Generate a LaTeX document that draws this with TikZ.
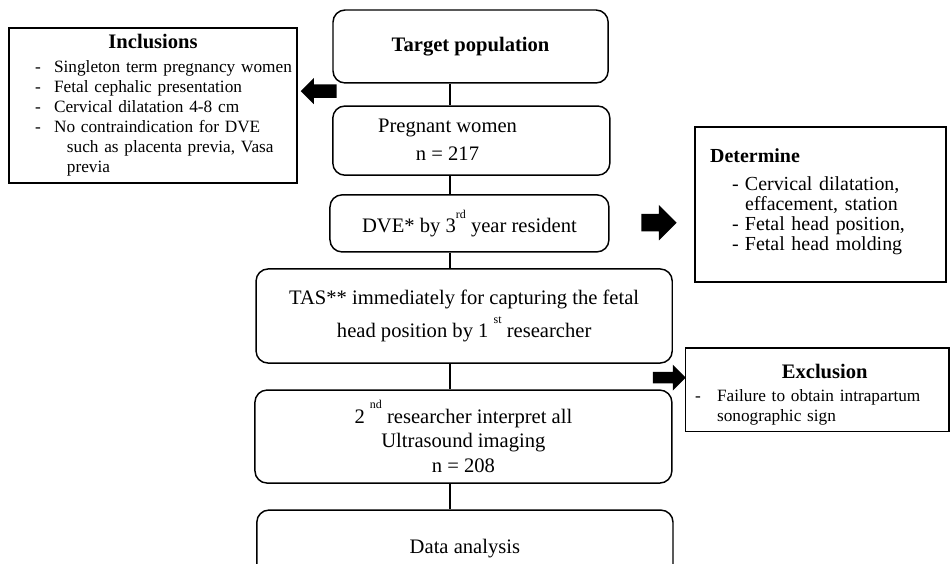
\documentclass[tikz,border=0pt]{standalone}
\usepackage{fontspec}
\setmainfont{Liberation Serif}
\usetikzlibrary{shapes.arrows}

\tikzset{
  flowbox/.style={draw, line width=1.1pt, rounded corners=.32cm, align=center, inner sep=0, font=\fontsize{15.5}{21}\selectfont},
  listbox/.style={draw, line width=1.1pt, align=left, inner sep=0, font=\fontsize{13}{15}\selectfont},
  blockarrow/.style={single arrow, fill=black, draw=none, inner sep=0, text depth=0pt, minimum width=1pt},
  spine/.style={line width=1.6pt}
}
\newcommand{\ordsup}[1]{\raisebox{.7em}{\fontsize{9}{9}\selectfont #1}}
\newcommand{\listdash}[3]{\hspace*{#1}\makebox[#2][l]{-}#3}

\begin{document}
\begin{tikzpicture}
\useasboundingbox (0,0) rectangle (25.16cm,-14.92cm);

\node (tp) at (12.45cm,-1.23cm) [flowbox, minimum width=7.28cm, minimum height=1.93cm] {\textbf{Target population}};
\node (pw) at (12.47cm,-3.72cm) [flowbox, minimum width=7.33cm, minimum height=1.83cm] {\hspace*{-.63cm}\begin{tabular}{@{}c@{}}Pregnant women\\n = 217\end{tabular}\hspace*{.63cm}};
\node (dve) at (12.42cm,-5.91cm) [flowbox, minimum width=7.38cm, minimum height=1.51cm] {DVE* by 3\ordsup{rd} year resident};
\node (tas) at (12.28cm,-8.36cm) [flowbox, minimum width=11.01cm, minimum height=2.49cm] {TAS** immediately for capturing the fetal\\[4.5pt]head position by 1 \ordsup{st} researcher};
\node (res) at (12.26cm,-11.55cm) [flowbox, font=\fontsize{15.5}{18.4}\selectfont, minimum width=11.03cm, minimum height=2.46cm] {2 \ordsup{nd} researcher interpret all\\Ultrasound imaging\\n = 208};
\node (data) at (12.30cm,-14.50cm) [flowbox, minimum width=11.01cm, minimum height=2.01cm] {Data analysis};

%\node [fill=white] at (11.91cm,0) {spine};
\coordinate (sp) at (11.91cm,0);
\draw [spine] (tp.south -| sp) -- (pw.north -| sp);
\draw [spine] (pw.south -| sp) -- (dve.north -| sp);
\draw [spine] (dve.south -| sp) -- (tas.north -| sp);
\draw [spine] (tas.south -| sp) -- (res.north -| sp);
\draw [spine] (res.south -| sp) -- (data.north -| sp);

\node (incl) at (4.05cm,-2.79cm) [listbox, minimum width=7.62cm, minimum height=4.10cm, text width=7.62cm] {\makebox[7.62cm]{\fontsize{15.5}{15.5}\selectfont\bfseries Inclusions}\\[3pt]
\listdash{.69cm}{.5cm}{Singleton term pregnancy women}\\
\listdash{.69cm}{.5cm}{Fetal cephalic presentation}\\
\listdash{.69cm}{.5cm}{Cervical dilatation 4-8 cm}\\
\listdash{.69cm}{.5cm}{No contraindication for DVE}\\
\hspace*{1.53cm}such as placenta previa, Vasa\\
\hspace*{1.53cm}previa};
\node (arrincl) at (8.52cm,-2.41cm) [blockarrow, shape border rotate=180, minimum height=.95cm, text height=.34cm, single arrow head extend=.17cm] {};

\node (det) at (21.71cm,-5.41cm) [listbox, font=\fontsize{15}{15}\selectfont, minimum width=6.64cm, minimum height=4.10cm, text width=6.64cm] {\hspace*{.4cm}\textbf{Determine}\\[6.7pt]
\listdash{.98cm}{.34cm}{Cervical dilatation,}\\
\hspace*{1.32cm}effacement, station\\
\listdash{.98cm}{.34cm}{Fetal head position,}\\
\listdash{.98cm}{.34cm}{Fetal head molding}\\[-7.5pt]\mbox{}};
\node (arrdet) at (17.32cm,-5.89cm) [blockarrow, minimum height=.93cm, text height=.45cm, single arrow head extend=.24cm] {};

\node (excl) at (21.62cm,-10.31cm) [listbox, font=\fontsize{13}{15}\selectfont, minimum width=6.98cm, minimum height=2.20cm, text width=6.98cm] {\mbox{}\\[3.5pt]\makebox[6.98cm]{\hspace*{.4cm}\fontsize{15.5}{15.5}\selectfont\bfseries Exclusion}\\[2.2pt]
\listdash{.26cm}{.58cm}{Failure to obtain intrapartum}\\
\hspace*{.84cm}sonographic sign};
\node (arrexcl) at (17.63cm,-9.99cm) [blockarrow, minimum height=.87cm, text height=.29cm, single arrow head extend=.19cm] {};

\end{tikzpicture}
\end{document}
